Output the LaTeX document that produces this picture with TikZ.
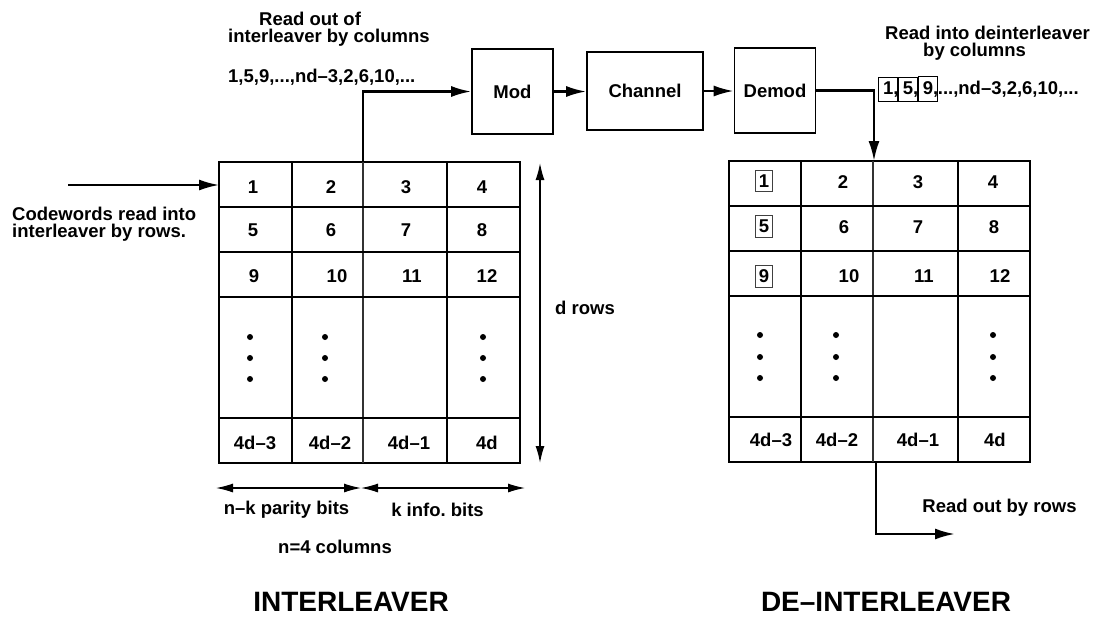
\documentclass[tikz,border=0pt]{standalone}
\usepackage{fontspec}
\setmainfont{Liberation Sans}
\usetikzlibrary{arrows.meta,positioning}
\tikzset{
  ar/.style={-{Latex[length=20pt,width=11pt]},line width=2.4pt},
  dimar/.style={{Latex[length=17pt,width=9pt]}-{Latex[length=17pt,width=9pt]},line width=1.2pt},
  gridline/.style={line width=2pt},
  thingrid/.style={line width=1.2pt,black!80},
  blk/.style={draw,line width=1.6pt,inner sep=0pt},
  cell/.style={inner sep=0pt},
  markbox/.style={draw=black!75,line width=0.8pt,inner xsep=3.5pt,inner ysep=4.5pt},
  lbl/.style={inner sep=0pt,align=left},
  title/.style={font=\fontsize{28}{30}\selectfont\bfseries}
}
\newcommand\seqbox[1]{{\fboxsep=4pt\fboxrule=0.8pt\fbox{#1\rlap{,}}}}

\begin{document}
\begin{tikzpicture}[x=1pt,y=-1pt,font=\fontsize{18.5}{20}\selectfont\bfseries]
\useasboundingbox (0,0) rectangle (1096,622);
% blocks of the channel chain
\node[blk,minimum width=81pt,minimum height=85pt] (mod) at (512.5,91.5) {Mod};
\node[blk,minimum width=116pt,minimum height=78pt] (chan) at (645,91) {Channel};
\node[blk,minimum width=81pt,minimum height=85pt] (demod) at (775,90.5) {Demod};
\draw[ar] (mod.east) -- (chan.west |- mod.east);
\draw[ar] (chan.east) -- (demod.west |- chan.east);

% interleaver grid
\draw[gridline] (219,162) rectangle (520,463);
\foreach \x in {292,447} \draw[gridline] (\x,162) -- (\x,463);
\draw[thingrid] (363,162) -- (363,463);
\foreach \y in {207,252,297,418} \draw[gridline] (219,\y) -- (520,\y);
\foreach \t/\x/\y [count=\i] in {1/253/187,2/331/187,3/406/187,4/482/187,
    5/253/230,6/331/230,7/406/230,8/482/230,9/254/276,10/337/276,11/412/276,12/487/276,
    4d–3/255/443,4d–2/330/443,4d–1/409/443,4d/487/443}
  \node[cell] (l\i) at (\x,\y) {\t};
\foreach \x in {250,325,483} \foreach \y in {337,358,379} \fill (\x,\y) circle (3pt);

% deinterleaver grid
\draw[gridline] (729,161) rectangle (1030,462);
\foreach \x in {801,958} \draw[gridline] (\x,161) -- (\x,462);
\draw[thingrid] (873,161) -- (873,462);
\foreach \y in {206,251,296,417} \draw[gridline] (729,\y) -- (1030,\y);
\foreach \t/\y [count=\i] in {1/181,5/226,9/276}
  \node[cell,markbox] (rb\i) at (764,\y) {\t};
\foreach \t/\x/\y [count=\i] in {2/843/182,3/918/182,4/993/182,
    6/844/227,7/918/227,8/994/227,10/849/276,11/924/276,12/1000/276,
    4d–3/771/440,4d–2/837/440,4d–1/918/440,4d/995/440}
  \node[cell] (r\i) at (\x,\y) {\t};
\foreach \x in {760,836,993} \foreach \y in {335,357,378} \fill (\x,\y) circle (3pt);

% connectors
\coordinate (cwin) at (68,185);
\coordinate (lin) at (219,185);
\draw[ar,line width=2pt] (cwin) -- (lin);
\coordinate (lout) at (363,162);
\draw[ar] (lout) |- (mod.west);
\coordinate (rin) at (874,161);
\draw[ar] (demod.east) -| (rin);
\coordinate (rout) at (876,462);
\coordinate (rend) at (955,534);
\draw[ar] (rout) |- (rend);

% dimension arrows
\coordinate (dtop) at (540,163);
\coordinate (dbot) at (540,463);
\draw[dimar,line width=1.5pt] (dtop) -- (dbot);
\coordinate (pl) at (216,488);
\coordinate (pm) at (361,488);
\coordinate (pr) at (525,488);
\draw[dimar] (pl) -- (pm);
\draw[dimar] (pm) -- (pr);

% labels
\node[lbl,anchor=west] (rdout1) at (259,19) {Read out of};
\node[lbl,anchor=west] (rdout2) at (228,38) {interleaver by columns};
\node[lbl,anchor=west] (seqout) at (228,77) {1,5,9,...,nd–3,2,6,10,...};
\node[lbl,anchor=west] (rdin1) at (885,33) {Read into deinterleaver};
\node[lbl,anchor=west] (rdin2) at (923,52) {by columns};
\node[lbl,anchor=west] (seqin) at (878,89) {\seqbox{1}\seqbox{5}\seqbox{9}...,nd–3,2,6,10,...};
\node[lbl,anchor=west,font=\fontsize{18.5}{17}\selectfont\bfseries] (cw) at (12,224) {Codewords read into\\interleaver by rows.};
\node[lbl,anchor=west] (drows) at (555,308) {d rows};
\node[lbl] (parity) at (286.5,510) {n–k parity bits};
\node[lbl] (info) at (437.5,510) {k info.\ bits};
\node[lbl] (ncols) at (335,547) {n=4 columns};
\node[lbl] (rdrows) at (999.5,508) {Read out by rows};
\node[title] (tint) at (351,602) {INTERLEAVER};
\node[title] (tdeint) at (886,602) {DE–INTERLEAVER};
\end{tikzpicture}
\end{document}
